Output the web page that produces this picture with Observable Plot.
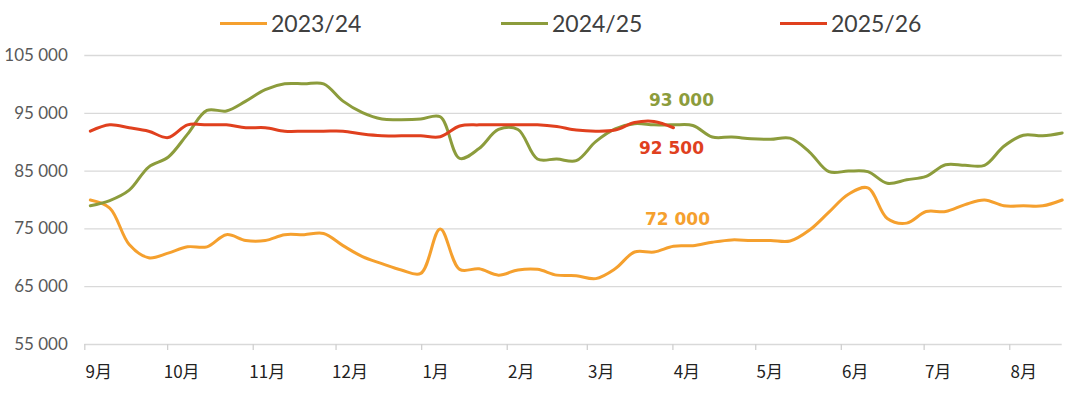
<!DOCTYPE html>
<html><head><meta charset="utf-8">
<script src="https://cdn.jsdelivr.net/npm/d3@7"></script>
<script src="https://cdn.jsdelivr.net/npm/@observablehq/plot@0.6"></script>
<style>
body{margin:0;background:#fff;width:1080px;height:394px;overflow:hidden}
#legend{position:relative;height:40px;font-family:Lato,sans-serif;font-size:23px;color:#404040}
.item{position:absolute;top:8px;height:30px;display:flex;align-items:center;white-space:nowrap}
.swatch{width:47px;height:3px;margin-right:4px}
#chart svg{display:block}
</style></head><body>
<div id="legend"></div>
<div id="chart"></div>
<script>
const seasons = ["2023/24", "2024/25", "2025/26"];
const colors = ["#F5A02E", "#8C9C3C", "#E0401E"];
const monthLabels = ["9月","10月","11月","12月","1月","2月","3月","4月","5月","6月","7月","8月"];
const yTicks = [55000, 65000, 75000, 85000, 95000, 105000];

// weekly values, starting early September
const v2324 = [80000,78600,72300,70000,70800,71900,71900,74000,73000,73000,74000,74000,74200,72100,70200,69000,67900,67300,75000,68000,68100,67000,67900,68000,67000,66900,66400,68100,71000,71000,72000,72100,72700,73100,73000,73000,72900,74800,77900,81000,82100,76800,76000,78000,78000,79200,80000,79000,79000,79000,80000];
const v2425 = [79000,79900,81700,85700,87400,91400,95500,95400,97100,99100,100100,100100,100100,97100,95100,94000,93900,94000,94400,87200,88900,92200,92200,87100,87100,86800,90100,92300,93200,93000,93000,92900,90900,90900,90600,90500,90700,88300,84900,85000,84900,82900,83500,84100,86100,86000,86000,89300,91200,91100,91600];
const v2526 = [91900,93000,92500,91900,90800,93000,93000,93000,92500,92500,91900,91900,91900,91900,91400,91100,91100,91100,90950,92800,93000,93000,93000,93000,92700,92100,91900,92100,93400,93600,92500];
const annotIndex = 30;

const start = new Date(Date.UTC(2023, 8, 1));
const end = new Date(Date.UTC(2024, 7, 20));
const dateAt = k => new Date(start.getTime() + (2 + 7.04 * k) * 864e5);
const values = [v2324, v2425, v2526];
const rows = values.flatMap((arr, s) => arr.map((v, k) => ({season: seasons[s], date: dateAt(k), value: v})));
const fmt = v => d3.format(",")(v).replace(/,/g, " ");
const monthTicks = d3.utcMonth.range(start, new Date(Date.UTC(2024, 7, 2)));

// legend
const legend = document.getElementById("legend");
const lefts = [220, 501, 780];
seasons.forEach((s, i) => {
  const it = document.createElement("div");
  it.className = "item";
  it.style.left = lefts[i] + "px";
  it.innerHTML = `<span class="swatch" style="background:${colors[i]}"></span><span>${s}</span>`;
  legend.appendChild(it);
});

const offsets = [{dx: 4, dy: -27}, {dx: 8, dy: -24}, {dx: -2, dy: 21}];
const annotMarks = seasons.map((s, i) => Plot.text(
  [{season: s, date: dateAt(annotIndex), value: values[i][annotIndex]}],
  {x: "date", y: "value", text: d => fmt(d.value), fill: colors[i],
   fontFamily: "DejaVu Sans", fontWeight: "bold", fontSize: 17, textAnchor: "middle", ...offsets[i]}
));

const chart = Plot.plot({
  width: 1080, height: 354,
  marginLeft: 84.3, marginRight: 18.3, marginTop: 15, marginBottom: 50,
  style: {fontFamily: "Lato, sans-serif", background: "#fff"},
  x: {type: "utc", domain: [start, end], label: null},
  y: {domain: [55000, 105000], label: null},
  color: {domain: seasons, range: colors},
  marks: [
    Plot.gridY(yTicks, {stroke: "#d9d9d9", strokeOpacity: 1, strokeWidth: 1.3}),
    Plot.axisY(yTicks, {tickSize: 0, tickPadding: 17, tickFormat: fmt, fontSize: 17, fill: "#595959", label: null}),
    Plot.axisX(monthTicks, {tickSize: 6, stroke: "#d0d0d0", strokeWidth: 1.3, tickFormat: () => "", label: null}),
    Plot.axisX(monthTicks, {tickSize: 0, tickPadding: 21, dx: 14, tickFormat: (d, i) => monthLabels[i],
      fontFamily: "Noto Sans CJK SC", fontSize: 17, fill: "#222", label: null}),
    Plot.line(rows, {x: "date", y: "value", z: "season", stroke: "season", strokeWidth: 3,
      curve: "catmull-rom", strokeLinecap: "round", strokeLinejoin: "round"}),
    ...annotMarks
  ]
});
document.getElementById("chart").appendChild(chart);
</script>
</body></html>
